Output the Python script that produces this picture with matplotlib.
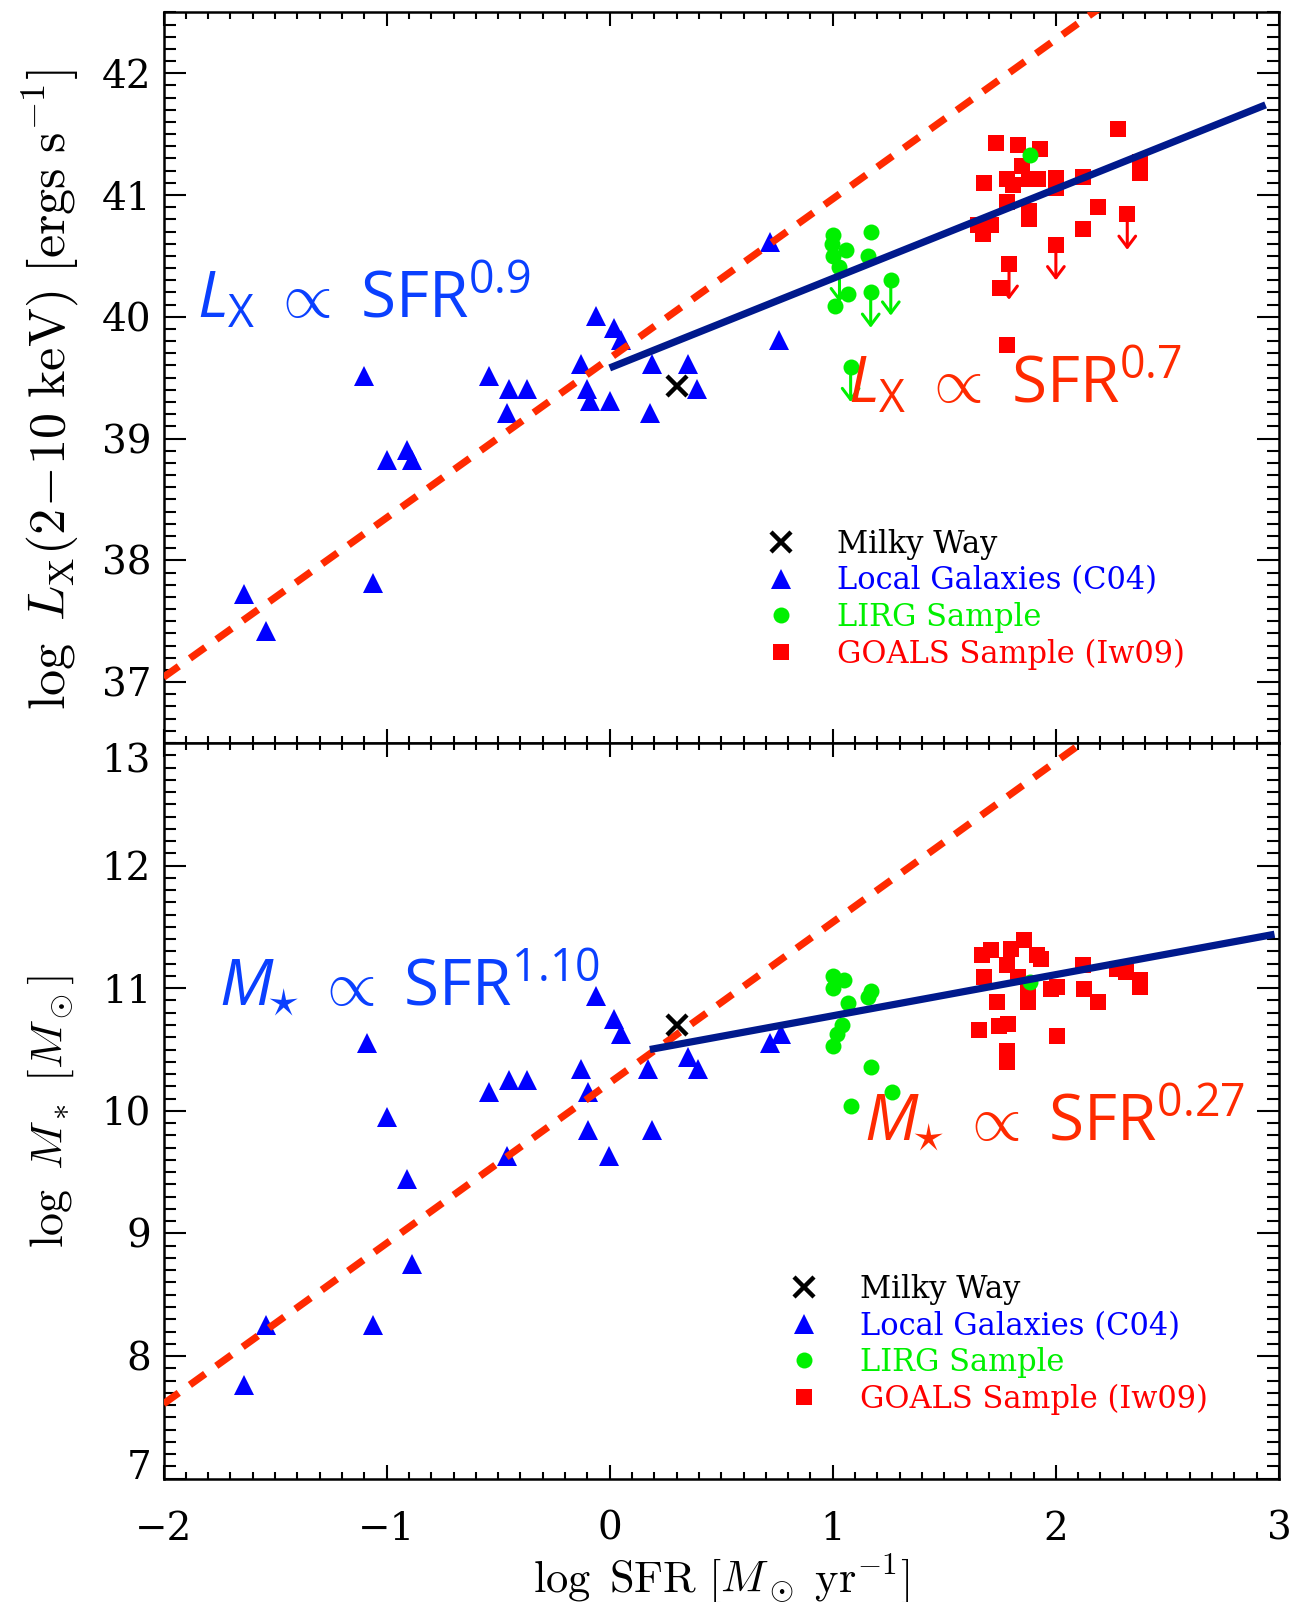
import matplotlib
matplotlib.use("Agg")
import matplotlib.pyplot as plt
from matplotlib.ticker import MultipleLocator


# ========================
# Data
# ========================
# --- top panel: log Lx(2-10 keV) vs log SFR ---
lx_c04_sfr = [-1.64, -1.54, -1.10, -1.06, -1.00, -0.91, -0.885, -0.54, -0.45, -0.37, -0.46, -0.13,
              -0.10, -0.09, -0.06, 0.00, 0.02, 0.05, 0.18, 0.19, 0.35, 0.39, 0.72, 0.76]
lx_c04 = [37.72, 37.42, 39.51, 37.81, 38.82, 38.91, 38.82, 39.51, 39.41, 39.41, 39.21, 39.61,
          39.41, 39.31, 40.01, 39.31, 39.91, 39.81, 39.21, 39.61, 39.61, 39.41, 40.61, 39.81]

lx_lirg_sfr = [1.00, 0.995, 1.06, 1.00, 1.17, 1.16, 1.03, 1.07, 1.01, 1.17, 1.26, 1.08, 1.885]
lx_lirg = [40.67, 40.60, 40.55, 40.50, 40.70, 40.50, 40.41, 40.19, 40.09, 40.20, 40.30, 39.59, 41.33]
lx_lirg_uplim = [0, 0, 0, 0, 0, 0, 1, 0, 0, 1, 1, 1, 0]

lx_goals_sfr = [1.73, 1.83, 1.93, 2.28, 2.375, 2.375, 1.85, 1.68, 1.78, 1.81, 1.88, 1.92, 2.00, 2.00,
                2.12, 1.78, 1.88, 1.88, 2.19, 1.65, 1.71, 1.675, 2.12, 2.32, 2.00, 1.79, 1.75, 1.78]
lx_goals = [41.43, 41.41, 41.38, 41.54, 41.27, 41.18, 41.24, 41.10, 41.13, 41.08, 41.13, 41.13, 41.14, 41.06,
            41.15, 40.94, 40.87, 40.80, 40.90, 40.75, 40.75, 40.68, 40.72, 40.84, 40.59, 40.43, 40.24, 39.77]
lx_goals_uplim = [0, 0, 0, 0, 0, 0, 0, 0, 0, 0, 0, 0, 0, 0,
                  0, 0, 0, 0, 0, 0, 0, 0, 0, 1, 1, 1, 0, 0]

# --- bottom panel: log M* vs log SFR ---
ms_c04_sfr = [-1.64, -1.54, -1.09, -1.06, -1.00, -0.91, -0.885, -0.54, -0.45, -0.37, -0.46, -0.13,
              -0.095, -0.095, -0.06, -0.005, 0.02, 0.05, 0.17, 0.19, 0.35, 0.395, 0.72, 0.77]
ms_c04 = [7.76, 8.25, 10.55, 8.25, 9.95, 9.44, 8.75, 10.15, 10.25, 10.25, 9.63, 10.34,
          10.15, 9.84, 10.94, 9.63, 10.75, 10.63, 10.34, 9.84, 10.44, 10.34, 10.55, 10.63]

ms_lirg_sfr = [1.00, 1.05, 1.00, 1.17, 1.16, 1.07, 1.04, 1.02, 1.00, 1.17, 1.265, 1.08, 1.885]
ms_lirg = [11.10, 11.07, 11.00, 10.98, 10.93, 10.88, 10.70, 10.63, 10.53, 10.36, 10.15, 10.04, 11.05]

ms_goals_sfr = [1.855, 1.71, 1.67, 1.80, 1.78, 1.915, 1.935, 1.68, 1.83, 2.12, 2.275, 2.315, 2.375, 2.375,
                1.875, 1.875, 1.98, 2.005, 2.125, 2.19, 1.735, 1.655, 1.745, 1.785, 2.005, 1.78, 1.78]
ms_goals = [11.39, 11.31, 11.27, 11.32, 11.19, 11.27, 11.24, 11.09, 11.09, 11.19, 11.16, 11.13, 11.07, 11.01,
            10.99, 10.89, 10.99, 11.01, 10.99, 10.89, 10.885, 10.66, 10.69, 10.71, 10.61, 10.49, 10.40]

# Milky Way
mw_sfr = [0.30]
mw_lx = [39.43]
mw_ms = [10.70]

# fitted relations (end points)
lx_fit_local_sfr = [-2.0, 2.2]
lx_fit_local = [37.04, 42.54]
lx_fit_lirg_sfr = [0.0, 2.94]
lx_fit_lirg = [39.58, 41.74]
ms_fit_local_sfr = [-2.0, 2.2]
ms_fit_local = [7.61, 13.11]
ms_fit_lirg_sfr = [0.18, 2.98]
ms_fit_lirg = [10.50, 11.44]

legend_labels = ["Milky Way", "Local Galaxies (C04)", "LIRG Sample", "GOALS Sample (Iw09)"]

# ========================
# Style
# ========================
C_LOCAL = "#0000ff"
C_LIRG = "#00f000"
C_GOALS = "#ff0000"
C_DASH = "#ff2a00"
C_FIT = "#00198c"
C_TXT_BLUE = "#0a40ff"
C_TXT_RED = "#ff2a00"
ARROW_DEX = 0.29

plt.rcParams["font.family"] = "DejaVu Serif"
plt.rcParams["mathtext.fontset"] = "cm"
plt.rcParams["mathtext.rm"] = "Open Sans"
plt.rcParams["mathtext.it"] = "Open Sans:italic"
plt.rcParams["mathtext.bf"] = "Open Sans:bold"


def style_axis(ax, ylim):
    ax.set_xlim(-2, 3)
    ax.set_ylim(*ylim)
    ax.xaxis.set_major_locator(MultipleLocator(1))
    ax.xaxis.set_minor_locator(MultipleLocator(0.1))
    ax.yaxis.set_major_locator(MultipleLocator(1))
    ax.yaxis.set_minor_locator(MultipleLocator(0.1))
    ax.tick_params(which="both", direction="in", top=True, right=True, width=1.5)
    ax.tick_params(axis="x", which="major", length=10, pad=23, labelsize=28)
    ax.tick_params(axis="x", which="minor", length=5)
    ax.tick_params(axis="y", which="major", length=16, pad=9, labelsize=28)
    ax.tick_params(axis="y", which="minor", length=8.5)
    for sp in ax.spines.values():
        sp.set_linewidth(1.8)


def draw_uplims(ax, xs, ys, flags, color):
    for x, y, f in zip(xs, ys, flags):
        if not f:
            continue
        ax.annotate("", xy=(x, y - ARROW_DEX), xytext=(x, y),
                    arrowprops=dict(arrowstyle="->,head_length=0.4,head_width=0.3",
                                    color=color, lw=2.2, shrinkA=0, shrinkB=0,
                                    mutation_scale=20))


def draw_panel(ax, c04_x, c04_y, lirg_x, lirg_y, goals_x, goals_y, mw_y,
               fit_local, fit_lirg):
    h_mw, = ax.plot(mw_sfr, mw_y, "x", color="black", ms=15, mew=3.2, zorder=6)
    h_c04, = ax.plot(c04_x, c04_y, "^", color=C_LOCAL, ms=13.7, mew=0, zorder=3)
    h_lirg, = ax.plot(lirg_x, lirg_y, "o", color=C_LIRG, ms=11.5, mew=0, zorder=3)
    h_goals, = ax.plot(goals_x, goals_y, "s", color=C_GOALS, ms=11.8, mew=0, zorder=2)
    ax.plot(fit_local[0], fit_local[1], color=C_DASH, lw=5.2,
            linestyle=(0, (2.6, 1.9)), dash_capstyle="butt", zorder=4)
    ax.plot(fit_lirg[0], fit_lirg[1], color=C_FIT, lw=5.2,
            solid_capstyle="butt", zorder=5)
    return [h_mw, h_c04, h_lirg, h_goals]


def add_legend(ax, handles, anchor):
    ax.legend(handles, legend_labels, loc="upper left", bbox_to_anchor=anchor,
              frameon=False, fontsize=22, numpoints=1, handlelength=1.0,
              handletextpad=1.33, labelspacing=0.18, borderpad=0, borderaxespad=0,
              labelcolor=["black", C_LOCAL, C_LIRG, C_GOALS])


# ========================
# Figure
# ========================
fig = plt.figure(figsize=(13.06, 16.02), dpi=100)
ax1 = fig.add_axes([0.1252, 0.5362, 0.8541, 0.4561])
ax2 = fig.add_axes([0.1252, 0.0770, 0.8541, 0.4592])

# --- top panel ---
style_axis(ax1, (36.5, 42.5))
ax1.tick_params(axis="x", labelbottom=False)
h1 = draw_panel(ax1, lx_c04_sfr, lx_c04, lx_lirg_sfr, lx_lirg, lx_goals_sfr, lx_goals, mw_lx,
                (lx_fit_local_sfr, lx_fit_local), (lx_fit_lirg_sfr, lx_fit_lirg))
draw_uplims(ax1, lx_lirg_sfr, lx_lirg, lx_lirg_uplim, C_LIRG)
draw_uplims(ax1, lx_goals_sfr, lx_goals, lx_goals_uplim, C_GOALS)
add_legend(ax1, h1, (0.540, 0.293))
ax1.set_ylabel(r"$\log\ L_{\rm X}(2\!-\!10\ {\rm keV})\ [{\rm ergs\ s^{-1}}]$",
               fontsize=37.5, va="center")
ax1.yaxis.set_label_coords(-0.101, 0.484)

ann = dict(family="Open Sans", math_fontfamily="custom",
           fontsize=46, ha="left", va="baseline", zorder=7)
ax1.text(-1.85, 39.99, r"$L_\mathrm{X}$ $\propto$ SFR$^{0.9}$", color=C_TXT_BLUE, **ann)
ax1.text(1.07, 39.29, r"$L_\mathrm{X}$ $\propto$ SFR$^{0.7}$", color=C_TXT_RED, **ann)

# --- bottom panel ---
style_axis(ax2, (7, 13))
h2 = draw_panel(ax2, ms_c04_sfr, ms_c04, ms_lirg_sfr, ms_lirg, ms_goals_sfr, ms_goals, mw_ms,
                (ms_fit_local_sfr, ms_fit_local), (ms_fit_lirg_sfr, ms_fit_lirg))
add_legend(ax2, h2, (0.5604, 0.278))
ax2.set_ylabel(r"$\log\ M_*\ [M_\odot]$", fontsize=33, va="center")
ax2.yaxis.set_label_coords(-0.101, 0.498)
ax2.set_xlabel(r"$\log\ {\rm SFR}\ [M_\odot\ {\rm yr}^{-1}]$", fontsize=32)
ax2.xaxis.set_label_coords(0.5, -0.100)

# edge labels pulled inside like the original
fig.canvas.draw()
for tick, lab in zip(ax2.get_yticks(), ax2.get_yticklabels()):
    if tick == 13:
        lab.set_va("top")
    elif tick == 7:
        lab.set_va("baseline")

ax2.text(-1.75, 10.857, r"$M_{\!\!\star}\!$ $\propto$ SFR$^{1.10}$", color=C_TXT_BLUE, **ann)
ax2.text(1.14, 9.756, r"$M_{\!\!\star}\!$ $\propto$ SFR$^{0.27}$", color=C_TXT_RED, **ann)

fig.savefig("out.png", dpi=100)
